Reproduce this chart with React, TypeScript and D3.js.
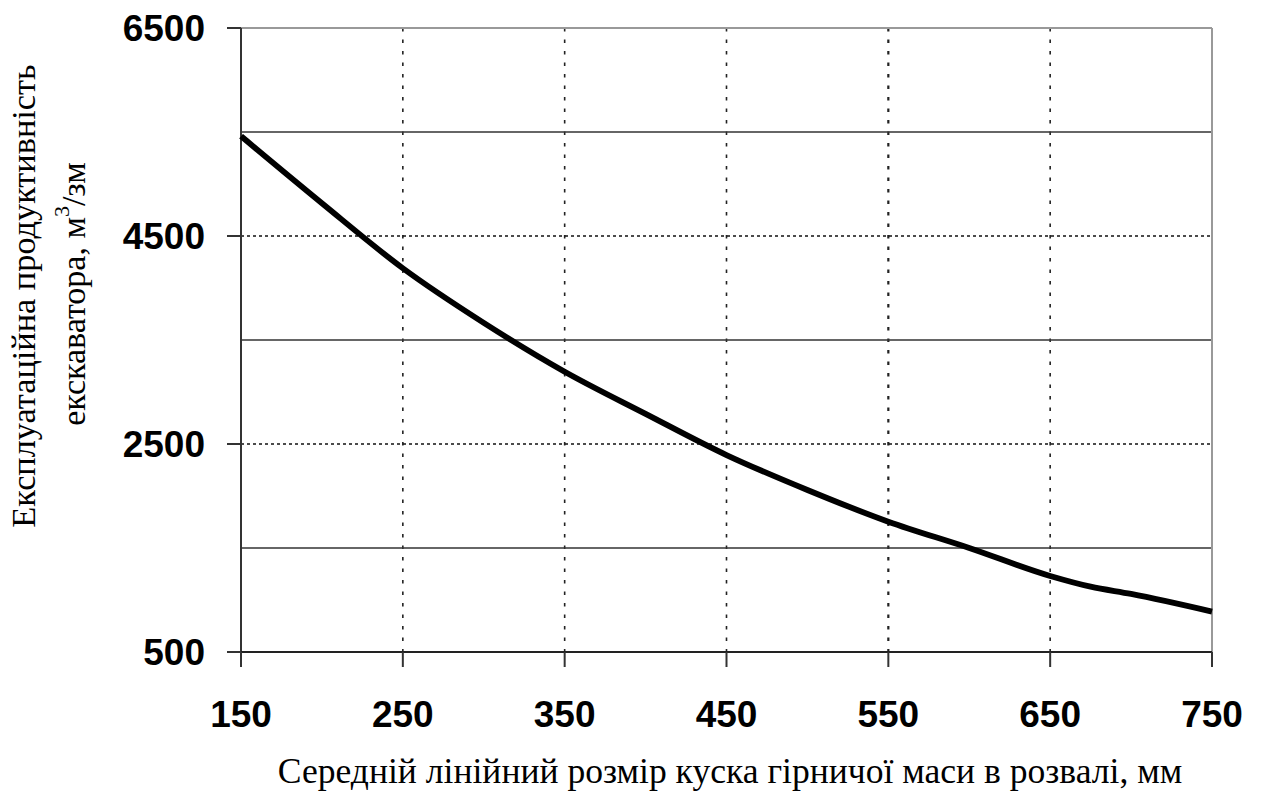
import React from "react";
import * as d3 from "d3";

const xValues = [150, 200, 250, 300, 350, 400, 450, 500, 550, 600, 650, 675, 700, 750];
const yValues = [5460, 4815, 4190, 3665, 3195, 2790, 2394, 2058, 1753, 1500, 1231, 1128, 1058, 888];
const xTicks = [150, 250, 350, 450, 550, 650, 750];
const yMajorTicks = [6500, 4500, 2500, 500];
const yMinorLines = [5500, 3500, 1500];
const xTitle = "Середній лінійний розмір куска гірничої маси в розвалі, мм";
const yTitle1 = "Експлуатаційна продуктивність";
const yTitle2a = "екскаватора, м";
const yTitle2sup = "3";
const yTitle2b = "/зм";

const W = 1264;
const H = 796;
const L = 241;
const R = 1212;
const T = 28;
const B = 652;

export default function App() {
  const x = d3.scaleLinear().domain([150, 750]).range([L, R]);
  const y = d3.scaleLinear().domain([500, 6500]).range([B, T]);
  const line = d3
    .line<number>()
    .x((_, i) => x(xValues[i]))
    .y((d) => y(d))
    .curve(d3.curveMonotoneX);

  const tickFont = "'Liberation Sans', Arial, sans-serif";
  const serif = "'Liberation Serif', 'Times New Roman', serif";

  return (
    <svg
      width={W}
      height={H}
      style={{ position: "absolute", left: 0, top: 0, background: "#fff" }}
    >
      <rect x={0} y={0} width={W} height={H} fill="#fff" />
      {xTicks.slice(1, -1).map((t) => (
        <line
          key={"vx" + t}
          x1={x(t)}
          x2={x(t)}
          y1={T}
          y2={B}
          stroke="#222"
          strokeWidth={t === 550 ? 2.2 : 1.6}
          strokeDasharray="3.5 8"
        />
      ))}
      {yMajorTicks.slice(1, -1).map((t) => (
        <line
          key={"hm" + t}
          x1={L}
          x2={R}
          y1={y(t)}
          y2={y(t)}
          stroke="#111"
          strokeWidth={1.7}
          strokeDasharray="3 3"
        />
      ))}
      {yMinorLines.map((t) => (
        <line
          key={"hn" + t}
          x1={L}
          x2={R}
          y1={y(t)}
          y2={y(t)}
          stroke="#333"
          strokeWidth={1.6}
        />
      ))}
      <line x1={L} x2={R} y1={T} y2={T} stroke="#999" strokeWidth={2} />
      <line x1={R} x2={R} y1={T} y2={B} stroke="#999" strokeWidth={2} />
      <line x1={L} x2={L} y1={T} y2={B} stroke="#333" strokeWidth={2} />
      <line x1={L - 14} x2={R} y1={B} y2={B} stroke="#222" strokeWidth={2} />
      {yMajorTicks.map((t) => (
        <line
          key={"yt" + t}
          x1={L - 14}
          x2={L}
          y1={y(t)}
          y2={y(t)}
          stroke="#333"
          strokeWidth={2}
        />
      ))}
      {xTicks.map((t) => (
        <line
          key={"xt" + t}
          x1={x(t)}
          x2={x(t)}
          y1={B}
          y2={B + 15}
          stroke="#333"
          strokeWidth={2}
        />
      ))}
      <path d={line(yValues) || ""} fill="none" stroke="#000" strokeWidth={5.8} strokeLinejoin="round" />
      {yMajorTicks.map((t) => (
        <text
          key={"yl" + t}
          x={205}
          y={y(t)}
          dy="0.36em"
          textAnchor="end"
          fontFamily={tickFont}
          fontWeight="bold"
          fontSize={37}
          fill="#000"
        >
          {t}
        </text>
      ))}
      {xTicks.map((t) => (
        <text
          key={"xl" + t}
          x={x(t)}
          y={727}
          textAnchor="middle"
          fontFamily={tickFont}
          fontWeight="bold"
          fontSize={37}
          fill="#000"
        >
          {t}
        </text>
      ))}
      <text
        x={730}
        y={783}
        textAnchor="middle"
        fontFamily={serif}
        fontSize={35.6}
        fill="#000"
      >
        {xTitle}
      </text>
      <g transform="translate(35,296) rotate(-90)">
        <text x={0} y={0} textAnchor="middle" fontFamily={serif} fontSize={34.3} fill="#000">
          {yTitle1}
        </text>
      </g>
      <g transform="translate(85,294) rotate(-90)">
        <text x={0} y={0} textAnchor="middle" fontFamily={serif} fontSize={34} fill="#000">
          {yTitle2a}
          <tspan fontSize={22} dy={-16}>{yTitle2sup}</tspan>
          <tspan dy={16}>{yTitle2b}</tspan>
        </text>
      </g>
    </svg>
  );
}
